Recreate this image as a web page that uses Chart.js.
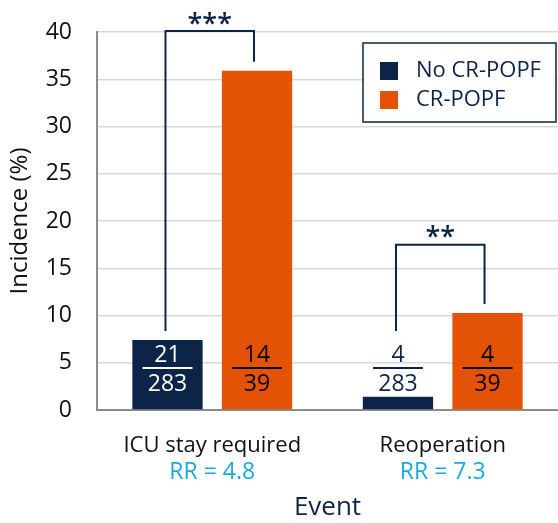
<!DOCTYPE html>
<html>
<head>
<meta charset="utf-8">
<script src="https://cdn.jsdelivr.net/npm/chart.js@4"></script>
<style>
  body { margin: 0; background: #fff; }
  #myChart { display: block; }
</style>
</head>
<body>
<canvas id="myChart" width="558" height="523"></canvas>
<script>
// datos
const categorias = ["ICU stay required", "Reoperation"];
const rrTextos = ["RR = 4.8", "RR = 7.3"];
const sinPopf = [7.42, 1.41];      // No CR-POPF (%)
const conPopf = [35.9, 10.26];     // CR-POPF (%)
const numSin = [21, 4];
const denSin = [283, 283];
const numCon = [14, 4];
const denCon = [39, 39];
const estrellas = ["***", "**"];
const yTicks = [0, 5, 10, 15, 20, 25, 30, 35, 40];

const AZUL = "#0b2447";
const NARANJA = "#e35205";
const CELESTE = "#1ba9e1";
const FUENTE = "'Open Sans', sans-serif";

// altura de los corchetes (en % del eje)
const corcheteTop = [40.1, 17.5];

const anotaciones = {
  id: "anotaciones",
  afterDatasetsDraw(chart) {
    const ctx = chart.ctx;
    const x = chart.scales.x;
    const y = chart.scales.y;
    const m0 = chart.getDatasetMeta(0);
    const m1 = chart.getDatasetMeta(1);
    ctx.save();

    // fracciones
    const yNum = 355, yLinea = 368, yDen = 383;
    const fraccion = (cx, num, den, color) => {
      ctx.fillStyle = color;
      ctx.strokeStyle = color;
      ctx.font = "23px " + FUENTE;
      ctx.textAlign = "center";
      ctx.textBaseline = "middle";
      ctx.fillText(String(num), cx, yNum);
      ctx.fillText(String(den), cx, yDen + 1);
      ctx.lineWidth = 2;
      ctx.beginPath();
      ctx.moveTo(cx - 25, yLinea);
      ctx.lineTo(cx + 25, yLinea);
      ctx.stroke();
    };
    const coloresSin = ["#ffffff", AZUL];
    categorias.forEach((c, i) => {
      fraccion(m0.data[i].x, numSin[i], denSin[i], coloresSin[i]);
      fraccion(m1.data[i].x, numCon[i], denCon[i], "#000000");
    });

    // corchetes de significancia
    ctx.strokeStyle = AZUL;
    ctx.lineWidth = 2;
    categorias.forEach((c, i) => {
      const xl = m0.data[i].x - 2;
      const xr = m1.data[i].x - 3;
      const top = y.getPixelForValue(corcheteTop[i]);
      const finIzq = yNum - 24;
      const finDer = m1.data[i].y - 9;
      ctx.beginPath();
      ctx.moveTo(xl, finIzq);
      ctx.lineTo(xl, top);
      ctx.lineTo(xr, top);
      ctx.lineTo(xr, finDer);
      ctx.stroke();
      ctx.fillStyle = AZUL;
      ctx.font = "600 27px " + FUENTE;
      ctx.textAlign = "center";
      ctx.textBaseline = "middle";
      ctx.fillText(estrellas[i], (xl + xr) / 2, top - 6);
    });

    // RR bajo cada categoria
    ctx.fillStyle = CELESTE;
    ctx.font = "23px " + FUENTE;
    ctx.textAlign = "center";
    ctx.textBaseline = "middle";
    categorias.forEach((c, i) => {
      ctx.fillText(rrTextos[i], x.getPixelForValue(i), 472);
    });

    // leyenda
    const lx = 363, ly = 43, lw = 193, lh = 79;
    ctx.fillStyle = "#ffffff";
    ctx.fillRect(lx, ly, lw, lh);
    ctx.strokeStyle = AZUL;
    ctx.lineWidth = 1.5;
    ctx.strokeRect(lx, ly, lw, lh);
    chart.data.datasets.forEach((ds, i) => {
      const yy = 71 + i * 29;
      ctx.fillStyle = ds.backgroundColor;
      ctx.fillRect(380, yy - 9, 18, 18);
      ctx.fillStyle = AZUL;
      ctx.font = "22px " + FUENTE;
      ctx.textAlign = "left";
      ctx.fillText(ds.label, 416, yy);
    });
    ctx.restore();
  }
};

const config = {
  type: "bar",
  data: {
    labels: categorias,
    datasets: [
      { label: "No CR-POPF", data: sinPopf, backgroundColor: AZUL,
        categoryPercentage: 0.777, barPercentage: 0.785 },
      { label: "CR-POPF", data: conPopf, backgroundColor: NARANJA,
        categoryPercentage: 0.777, barPercentage: 0.785 }
    ]
  },
  options: {
    responsive: false,
    animation: false,
    layout: { padding: { top: 32, right: -5, left: 0, bottom: 0 } },
    plugins: {
      legend: { display: false },
      tooltip: { enabled: false }
    },
    scales: {
      x: {
        afterFit: (ax) => { ax.height = 113; ax.paddingLeft = 0; ax.paddingRight = 0; },
        grid: { display: false, drawTicks: false },
        border: { color: "#8c8c8c", width: 2 },
        ticks: { color: "#111", font: { family: FUENTE, size: 22 }, padding: 23 },
        title: { display: true, text: "Event", color: AZUL,
                 font: { family: FUENTE, size: 26 }, padding: { top: 12, bottom: 0 } }
      },
      y: {
        min: 0, max: 40,
        afterFit: (ax) => { ax.width = 97; ax.paddingTop = 0; ax.paddingBottom = 0; },
        afterBuildTicks: (ax) => { ax.ticks = yTicks.map(v => ({ value: v })); },
        grid: { color: "#d9d9d9", lineWidth: 1.5, drawTicks: false },
        border: { color: "#8c8c8c", width: 2 },
        ticks: { color: "#111", font: { family: FUENTE, size: 23 }, padding: 25 },
        title: { display: true, text: "Incidence (%)", color: "#111",
                 font: { family: FUENTE, size: 24 }, padding: { top: 6, bottom: 4 } }
      }
    }
  },
  plugins: [anotaciones]
};

new Chart(document.getElementById("myChart"), config);
</script>
</body>
</html>
